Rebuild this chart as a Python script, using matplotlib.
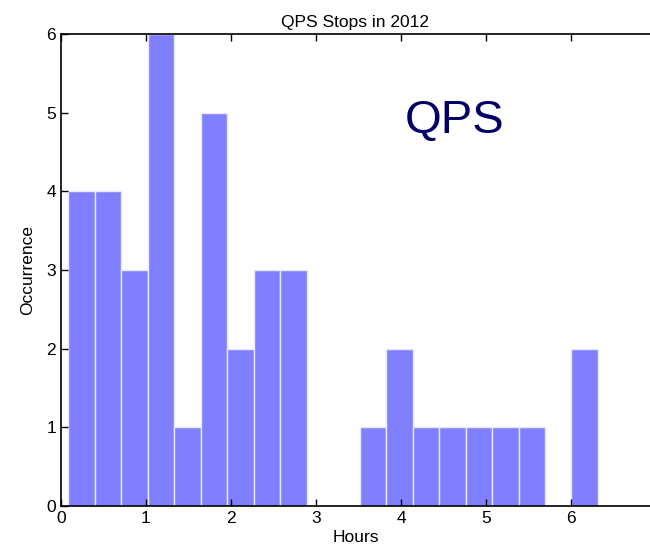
import matplotlib
matplotlib.use('Agg')
import matplotlib.pyplot as plt
import numpy as np

plt.rcParams['font.family'] = ['Liberation Sans', 'DejaVu Sans']

# histogram of QPS stop durations (hours), 20 bins
counts = [4, 4, 3, 6, 1, 5, 2, 3, 3, 0, 0, 1, 2, 1, 1, 1, 1, 1, 0, 2]
bin_lo, bin_hi = 0.086, 6.318
edges = np.linspace(bin_lo, bin_hi, len(counts) + 1)

fig = plt.figure(figsize=(6.5, 5.54), dpi=100)
ax = fig.add_axes([0.0938, 0.0866, 0.9062, 0.852])

ax.bar(edges[:-1], counts, width=np.diff(edges), align='edge',
       color='#8080ff', edgecolor='#e8e8ff', linewidth=1.0)

ax.set_xlim(0, 6.93)
ax.set_ylim(0, 6)
ax.set_xticks(range(0, 7))
ax.set_yticks(range(0, 7))
ax.tick_params(direction='in', top=True, right=False, labelsize=12.5, length=5,
               width=1)
ax.spines['right'].set_visible(False)
for s in ('left', 'bottom', 'top'):
    ax.spines[s].set_linewidth(1.2)

ax.set_title('QPS Stops in 2012', fontsize=12.5, pad=5)
ax.set_xlabel('Hours', fontsize=12.5, labelpad=3)
ax.set_ylabel('Occurrence', fontsize=12.5, labelpad=8)

ax.text(4.63, 4.9, 'QPS', fontsize=34, color='#000066', ha='center', va='center')

fig.savefig('out.png', dpi=100)
